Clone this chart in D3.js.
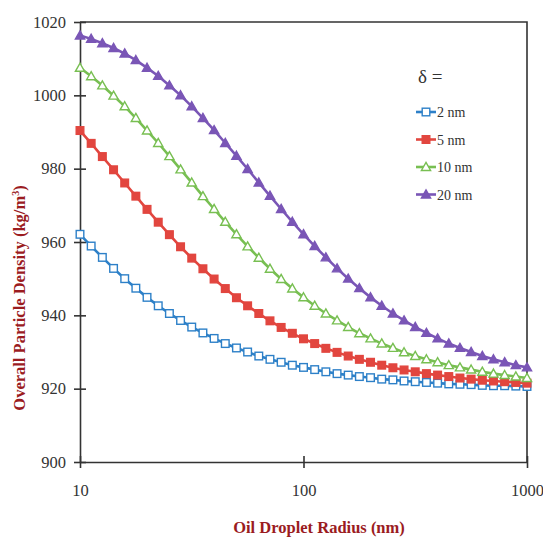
<!DOCTYPE html>
<html lang="en">
<head>
<meta charset="UTF-8"/>
<title>Overall particle density vs oil droplet radius</title>
<style>
  * { margin: 0; padding: 0; }
  body { background: #fff; width: 543px; height: 538px; overflow: hidden; }
  svg { display: block; font-family: "Liberation Serif", "DejaVu Serif", serif; }
  .axis path, .axis line { stroke: #333; stroke-width: 1.6px; }
  .title { font-weight: bold; font-size: 16.5px; fill: #9b1c1f; }
  .legend text { font-size: 14px; fill: #333; }
</style>
</head>
<body>
<svg id="chart" width="543" height="538"></svg>
<script src="https://cdn.jsdelivr.net/npm/d3@7/dist/d3.min.js"></script>
<script>
// --- data (41 points, 20 per decade) ---
const radius = [
  10, 11.22, 12.59, 14.13, 15.85, 17.78, 19.95, 22.39, 25.12, 28.18,
  31.62, 35.48, 39.81, 44.67, 50.12, 56.23, 63.1, 70.79, 79.43, 89.13,
  100, 112.2, 125.9, 141.3, 158.5, 177.8, 199.5, 223.9, 251.2, 281.8,
  316.2, 354.8, 398.1, 446.7, 501.2, 562.3, 631, 707.9, 794.3, 891.3, 1000
]
const delta2 = [
  962.1, 958.9, 955.8, 952.8, 950.0, 947.4, 944.9, 942.6, 940.5, 938.6,
  936.8, 935.2, 933.7, 932.3, 931.1, 930.0, 928.9, 928.0, 927.2, 926.4,
  925.8, 925.2, 924.6, 924.1, 923.7, 923.3, 923.0, 922.6, 922.4, 922.1,
  921.9, 921.7, 921.5, 921.3, 921.2, 921.1, 920.9, 920.8, 920.8, 920.7, 920.6
]
const delta5 = [
  990.4, 986.9, 983.3, 979.7, 976.1, 972.5, 968.9, 965.4, 962.0, 958.7,
  955.6, 952.7, 949.9, 947.3, 944.8, 942.6, 940.5, 938.5, 936.7, 935.1,
  933.6, 932.3, 931.0, 929.9, 928.9, 928.0, 927.2, 926.4, 925.7, 925.1,
  924.6, 924.1, 923.7, 923.3, 922.9, 922.6, 922.3, 922.1, 921.9, 921.7, 921.5
]
const delta10 = [
  1007.5, 1005.2, 1002.7, 999.9, 997.0, 993.8, 990.4, 987.0, 983.4, 979.8,
  976.2, 972.5, 969.0, 965.5, 962.1, 958.8, 955.7, 952.7, 949.9, 947.3,
  944.9, 942.6, 940.5, 938.6, 936.8, 935.1, 933.7, 932.3, 931.1, 929.9,
  928.9, 928.0, 927.2, 926.4, 925.8, 925.2, 924.6, 924.1, 923.7, 923.3, 922.9
]
const delta20 = [
  1016.3, 1015.4, 1014.2, 1012.9, 1011.4, 1009.6, 1007.5, 1005.3, 1002.7, 1000.0,
  997.0, 993.8, 990.5, 987.0, 983.5, 979.9, 976.2, 972.6, 969.0, 965.5,
  962.1, 958.9, 955.8, 952.8, 950.0, 947.4, 944.9, 942.6, 940.5, 938.6,
  936.8, 935.2, 933.7, 932.3, 931.1, 930.0, 928.9, 928.0, 927.2, 926.4, 925.8
]
const seriesNames  = ['2 nm', '5 nm', '10 nm', '20 nm']
const seriesColors = ['#2d80c8', '#e2463f', '#78bf52', '#7a56b6']
const seriesMarks  = ['openSquare', 'square', 'openTriangle', 'triangle']
const seriesValues = [delta2, delta5, delta10, delta20]

const xTicks = [10, 100, 1000]
const yTicks = [900, 920, 940, 960, 980, 1000, 1020]

// --- layout ---
const svg = d3.select('#chart')
const plotL = 80, plotR = 527, plotT = 22, plotB = 462

const x = d3.scaleLog().domain([10, 1000]).range([plotL, plotR])
const y = d3.scaleLinear().domain([900, 1020]).range([plotB, plotT])

// frame (top + right)
svg.append('path')
  .attr('d', `M${plotL},${plotT}H${plotR}V${plotB}`)
  .attr('fill', 'none').attr('stroke', '#333').attr('stroke-width', 1.6)

function styleAxis(g) {
  g.attr('font-family', '"Liberation Serif", serif').attr('font-size', 16)
  g.selectAll('.tick text')
    .style('font-family', '"Liberation Serif", "Times New Roman", serif')
    .style('font-size', '16.5px').attr('fill', '#333')
}

const yAxis = svg.append('g').attr('class', 'axis')
  .attr('transform', `translate(${plotL},0)`)
  .call(d3.axisLeft(y).tickValues(yTicks).tickFormat(d3.format('d')).tickSize(6).tickPadding(8).tickSizeOuter(0))
  .call(styleAxis)
yAxis.selectAll('.tick line').attr('x1', -6).attr('x2', 6)

const xAxis = svg.append('g').attr('class', 'axis')
  .attr('transform', `translate(0,${plotB})`)
  .call(d3.axisBottom(x).tickValues(xTicks).tickFormat(d3.format('d')).tickSize(6).tickPadding(16).tickSizeOuter(0))
  .call(styleAxis)
xAxis.selectAll('.tick line').attr('y1', -6).attr('y2', 6)

// axis titles
svg.append('text').attr('class', 'title')
  .attr('x', 319).attr('y', 533).attr('text-anchor', 'middle')
  .text('Oil Droplet Radius (nm)')

const yt = svg.append('text').attr('class', 'title')
  .attr('transform', 'translate(25,298) rotate(-90)').attr('text-anchor', 'middle')
yt.append('tspan').text('Overall Particle Density (kg/m')
yt.append('tspan').attr('font-size', 10).attr('dy', -6).text('3')
yt.append('tspan').attr('dy', 6).text(')')

// --- series ---
const line = d3.line().x(d => x(d[0])).y(d => y(d[1]))

function drawMarker(g, kind, color, cx, cy) {
  const open = kind.startsWith('open')
  if (kind.toLowerCase().includes('square')) {
    g.append('rect')
      .attr('x', cx - 3.8).attr('y', cy - 3.8).attr('width', 7.6).attr('height', 7.6)
      .attr('fill', open ? '#fff' : color).attr('stroke', color).attr('stroke-width', 1.4)
  } else {
    const s = 4.6
    g.append('path')
      .attr('d', `M${cx},${cy - s}L${cx + s},${cy + s * 0.75}L${cx - s},${cy + s * 0.75}Z`)
      .attr('fill', open ? '#fff' : color).attr('stroke', color).attr('stroke-width', 1.4)
  }
}

seriesValues.forEach((vals, i) => {
  const pts = radius.map((r, j) => [r, vals[j]])
  const g = svg.append('g')
  g.append('path').datum(pts)
    .attr('d', line).attr('fill', 'none')
    .attr('stroke', seriesColors[i]).attr('stroke-width', 2.6)
  pts.forEach(p => drawMarker(g, seriesMarks[i], seriesColors[i], x(p[0]), y(p[1])))
})

// --- legend ---
const legend = svg.append('g').attr('class', 'legend')
legend.append('text').attr('x', 418).attr('y', 83).style('font-size', '19px').text('δ =')
seriesNames.forEach((name, i) => {
  const ly = 112 + i * 27.5
  legend.append('line')
    .attr('x1', 416).attr('x2', 436).attr('y1', ly).attr('y2', ly)
    .attr('stroke', seriesColors[i]).attr('stroke-width', 2.6)
  drawMarker(legend, seriesMarks[i], seriesColors[i], 426, ly)
  legend.append('text').attr('x', 437).attr('y', ly + 5).text(name)
})
</script>
</body>
</html>
